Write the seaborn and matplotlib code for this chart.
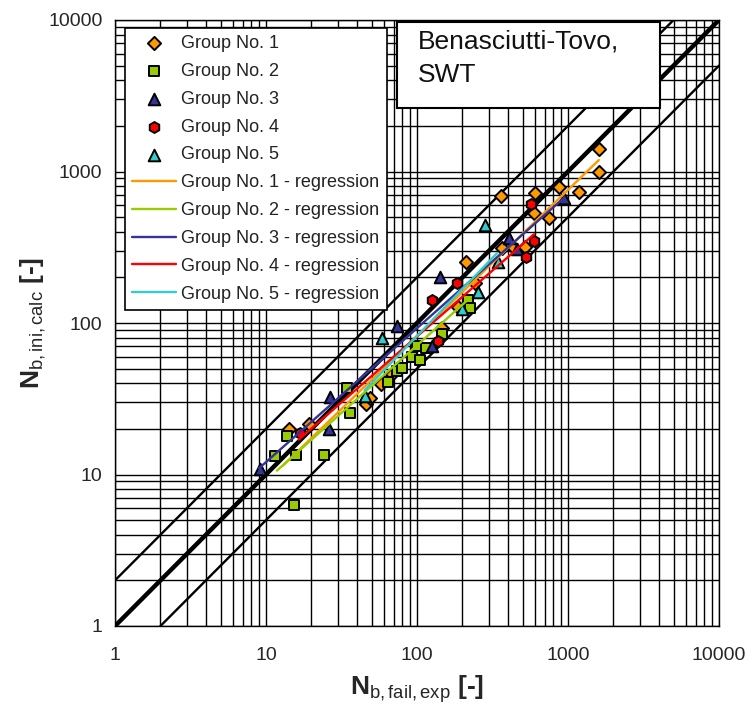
import matplotlib
matplotlib.use("Agg")
import matplotlib.pyplot as plt
import matplotlib.ticker as mticker
from matplotlib.patches import Rectangle
import seaborn as sns
import pandas as pd

sns.set_style("white")
plt.rcParams['font.family'] = ['Liberation Sans', 'DejaVu Sans']
plt.rcParams['mathtext.fontset'] = 'custom'
plt.rcParams['mathtext.rm'] = 'Liberation Sans'
plt.rcParams['mathtext.bf'] = 'Liberation Sans:bold'
plt.rcParams['mathtext.it'] = 'Liberation Sans:italic'

# ---- data ----
g1_x = [14.1, 19.2, 46, 48.6, 58, 68.8, 147, 188, 212, 244, 362, 367, 441, 516, 594, 607, 752, 875, 1187, 1610, 1610]
g1_y = [20, 21.7, 29, 32, 39.7, 46, 92, 127, 251, 185, 686, 311, 311, 316, 530, 718, 491, 787, 729, 1403, 1000]

g2_x = [11.4, 13.7, 15.7, 15.3, 24.4, 34.6, 35.8, 64, 74, 79, 92, 100, 104, 115, 147, 216, 225]
g2_y = [13.3, 18.0, 13.5, 6.3, 13.5, 37.5, 25.3, 40.5, 48.5, 50.8, 60, 71, 56.7, 68, 84, 142, 125]

g3_x = [9.1, 26.5, 26, 74, 126, 143, 406, 460, 943]
g3_y = [10.8, 32.5, 20, 96, 70, 200, 366, 306, 667]

g4_x = [16.7, 126, 137, 183, 530, 595, 570]
g4_y = [18.9, 142, 76, 185, 271, 350, 610]

g5_x = [45, 59, 200, 252, 280, 343]
g5_y = [33, 80, 123, 159, 443, 251]

# regression line end points
r1_x = [13, 1600];  r1_y = [11.5, 1190]
r2_x = [11.8, 222]; r2_y = [10.6, 145]
r3_x = [9, 940];    r3_y = [11, 670]
r4_x = [16.5, 595]; r4_y = [17, 385]
r5_x = [45, 340];   r5_y = [36, 290]

# reference lines
ref1_x = [1, 10000]; ref1_y = [1, 10000]
ref2_x = [1, 5000];  ref2_y = [2, 10000]
ref3_x = [2, 10000]; ref3_y = [1, 5000]

groups = ["Group No. 1", "Group No. 2", "Group No. 3", "Group No. 4", "Group No. 5"]
colors = ["#FF9900", "#99CC00", "#333399", "#FF0000", "#33CCCC"]
markers = ["D", "s", "^", "h", "^"]
sizes = [45, 58, 70, 62, 70]

fig = plt.figure(figsize=(7.53, 7.12), dpi=100)
ax = fig.add_axes([115/753, 1-626/712, 604/753, 606/712])

ax.set_xscale('log')
ax.set_yscale('log')
ax.set_xlim(1, 10000)
ax.set_ylim(1, 10000)

ax.grid(which='both', color='black', linewidth=1.0, zorder=0)
ax.set_axisbelow(True)

for rx, ry, lw in [(ref1_x, ref1_y, 3.2), (ref2_x, ref2_y, 1.7), (ref3_x, ref3_y, 1.7)]:
    sns.lineplot(x=rx, y=ry, color='black', linewidth=lw, ax=ax, zorder=2)

for gx, gy, c, m, s, lab in zip([g1_x, g2_x, g3_x, g4_x, g5_x], [g1_y, g2_y, g3_y, g4_y, g5_y],
                               colors, markers, sizes, groups):
    df = pd.DataFrame({'x': gx, 'y': gy})
    sns.scatterplot(data=df, x='x', y='y', color=c, marker=m, s=s, edgecolor='black',
                    linewidth=1.4, ax=ax, zorder=3, label=lab)

for rx, ry, c, lab in zip([r1_x, r2_x, r3_x, r4_x, r5_x], [r1_y, r2_y, r3_y, r4_y, r5_y], colors, groups):
    sns.lineplot(x=rx, y=ry, color=c, linewidth=1.7, ax=ax, zorder=4, label=lab + " - regression")

handles, labels = ax.get_legend_handles_labels()
order = [labels.index(g) for g in groups] + [labels.index(g + " - regression") for g in groups]
leg = ax.legend([handles[i] for i in order], [labels[i] for i in order],
                loc='upper left', bbox_to_anchor=(0.017, 0.987), borderaxespad=0,
                fontsize=13, frameon=True, fancybox=False, edgecolor='black',
                handlelength=2.4, handletextpad=0.3, labelspacing=0.6, borderpad=0.4,
                framealpha=1)
leg.get_frame().set_linewidth(1.2)
for t in leg.get_texts():
    t.set_color('#222222')

# annotation box
ax.add_patch(Rectangle(((397-115)/604, (626-108)/606), (660-397)/604, (108-22)/606,
                       transform=ax.transAxes, facecolor='white', edgecolor='black',
                       linewidth=1.5, zorder=5))
ax.text((418-115)/604, (626-30)/606, "Benasciutti-Tovo,\nSWT", transform=ax.transAxes,
        ha='left', va='top', fontsize=19, linespacing=1.45, zorder=6, color='#111111')

fmt = mticker.FuncFormatter(lambda v, p: f"{v:g}")
ax.xaxis.set_major_formatter(fmt)
ax.yaxis.set_major_formatter(fmt)
ax.xaxis.set_minor_formatter(mticker.NullFormatter())
ax.yaxis.set_minor_formatter(mticker.NullFormatter())
ax.tick_params(axis='both', which='major', length=6, width=1, labelsize=14, color='black', direction='out')
ax.tick_params(axis='x', which='major', pad=9)
ax.tick_params(axis='y', which='major', pad=3)
ax.tick_params(axis='both', which='minor', length=0)
for sp in ax.spines.values():
    sp.set_color('black')
    sp.set_linewidth(1.0)

ax.set_xlabel(r"$\mathbf{N}_{\mathrm{b,fail,exp}}$ [-]", fontsize=19, fontweight='bold', labelpad=7)
ax.set_ylabel(r"$\mathbf{N}_{\mathrm{b,ini,calc}}$ [-]", fontsize=19, fontweight='bold', labelpad=0)

fig.savefig("out.png", dpi=100, facecolor='white')
